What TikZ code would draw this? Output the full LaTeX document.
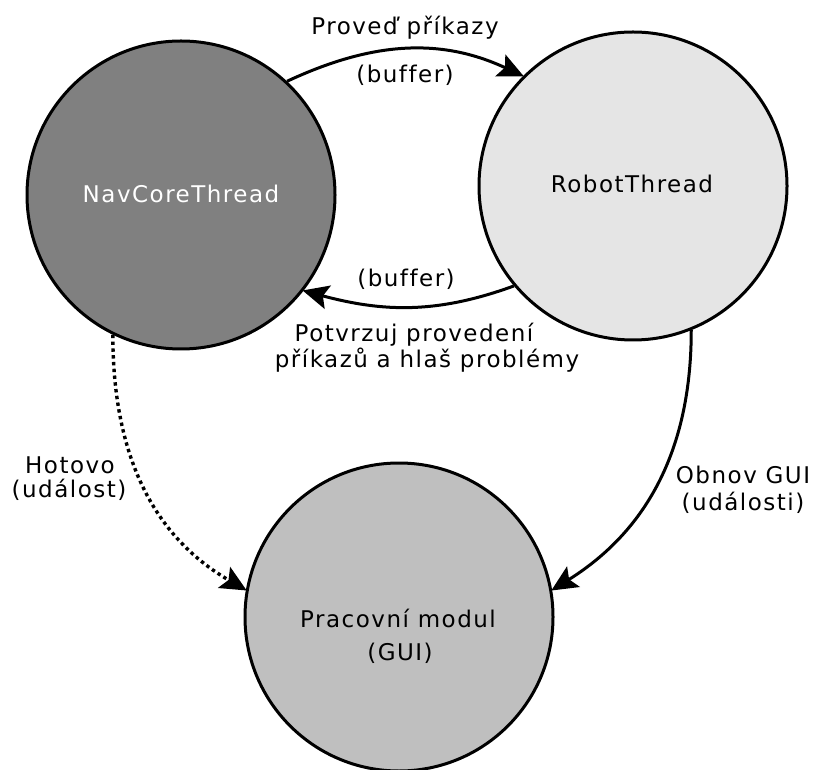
\documentclass[tikz,border=0pt]{standalone}
\usepackage{fontspec}
\setmainfont[LetterSpace=6.5,Ligatures=CommonOff]{DejaVu Sans}
\usetikzlibrary{arrows.meta}
\begin{document}
\begin{tikzpicture}[x=1pt,y=1pt,
  state/.style={circle,draw=black,line width=3pt,minimum size=308pt,inner sep=0pt},
  link/.style={line width=3pt,-{Stealth[length=26pt,width=24pt,inset=5pt]},shorten >=-1pt},
  dots/.style={link,line width=3.4pt,dash pattern=on 3.4pt off 3.4pt},
  lbl/.style={font=\fontsize{23}{26}\selectfont,anchor=base,inner sep=0pt}]
\useasboundingbox (0,0) rectangle (813,769);

% the three threads / modules
\node[state,fill=black!50] (nav) at (181,574) {};
\node[state,fill=black!10] (robot) at (633,583) {};
\node[state,fill=black!25] (gui) at (399,152) {};

\node[lbl,text=white] (navt) at (181,566) {NavCoreThread};
\node[lbl] (robott) at (632,576) {RobotThread};
\node[lbl] (guit1) at (398,142) {Pracovní modul};
\node[lbl] (guit2) at (400,109) {(GUI)};

% connectors
\draw[link] (nav.47) to[out=25,in=155] (robot.135.5);
\draw[link] (robot.220) to[out=200,in=-15] (nav.322.5);
\draw[dots] (nav.244) to[out=-90,in=150] (gui.170.8);
\draw[link] (robot.292.3) to[out=-90,in=32] (gui.10.7);

% connector labels
\node[lbl] (l1) at (405,734) {Proveď příkazy};
\node[lbl] (l2) at (405,686) {(buffer)};
\node[lbl] (l3) at (406,482) {(buffer)};
\node[lbl] (l4) at (414,427) {Potvrzuj provedení};
\node[lbl] (l5) at (427,401) {příkazů a hlaš problémy};
\node[lbl] (l6) at (70,296) {Hotovo};
\node[lbl] (l7) at (69,272) {(událost)};
\node[lbl] (l8) at (743,286) {Obnov GUI};
\node[lbl] (l9) at (743,259) {(události)};
\end{tikzpicture}
\end{document}
